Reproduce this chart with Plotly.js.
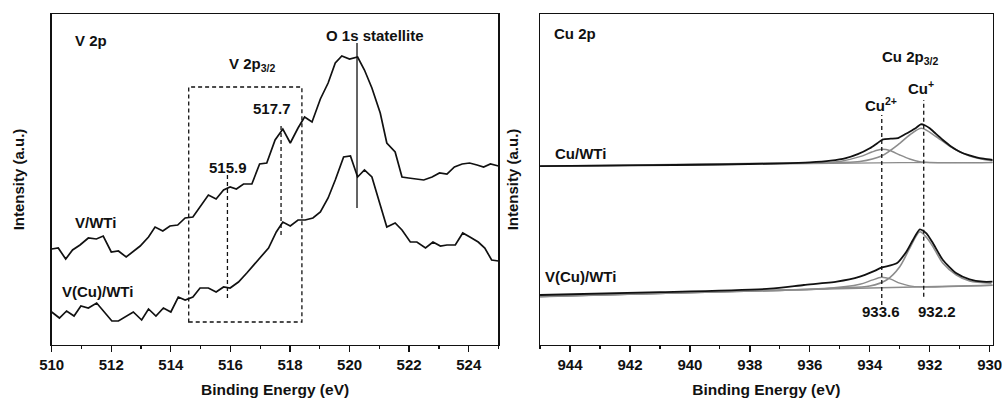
<!DOCTYPE html>
<html><head><meta charset="utf-8">
<script src="https://cdn.plot.ly/plotly-3.0.1.min.js"></script>
<style>html,body{margin:0;padding:0;background:#fff}#chart{width:1002px;height:399px}</style>
</head><body><div id="chart"></div>
<script>
// ---------- V 2p panel (left) ----------
const vwtiE = [510.0, 510.22, 510.47, 510.7, 510.95, 511.23, 511.5, 511.73, 512.0, 512.24, 512.5, 512.74, 512.97, 513.25, 513.47, 513.73, 513.97, 514.23, 514.48, 514.74, 514.98, 515.26, 515.52, 515.77, 515.99, 516.2, 516.44, 516.72, 516.98, 517.22, 517.5, 517.76, 518.01, 518.27, 518.49, 518.74, 519.02, 519.28, 519.52, 519.74, 520.0, 520.27, 520.5, 520.75, 521.03, 521.25, 521.53, 521.76, 521.98, 522.26, 522.49, 522.77, 523.02, 523.27, 523.52, 523.78, 524.03, 524.28, 524.5, 524.73, 525.0];
const vwtiI = [95, 96, 85, 94, 99, 106, 105, 108, 92, 93, 87, 93, 98, 107, 117, 113, 118, 119, 126, 127, 137, 149, 145, 154, 157, 155, 160, 160, 180, 181, 204, 215, 201, 216, 227, 222, 245, 261, 281, 288, 285, 287, 274, 256, 231, 201, 192, 167, 166, 165, 164, 167, 171, 170, 177, 180, 181, 179, 177, 180, 178];
const vcuE = [510.0, 510.26, 510.5, 510.75, 510.98, 511.23, 511.51, 511.73, 512.02, 512.24, 512.5, 512.74, 513.02, 513.25, 513.5, 513.75, 514.0, 514.25, 514.48, 514.74, 514.98, 515.26, 515.52, 515.77, 515.99, 516.27, 516.55, 516.83, 517.06, 517.28, 517.54, 517.76, 518.01, 518.27, 518.51, 518.77, 519.02, 519.28, 519.52, 519.8, 520.03, 520.27, 520.5, 520.75, 521.03, 521.25, 521.53, 521.76, 522.04, 522.26, 522.55, 522.8, 523.05, 523.27, 523.55, 523.8, 524.04, 524.32, 524.54, 524.77, 525.0];
const vcuI = [32, 26, 33, 28, 38, 36, 41, 33, 23, 23, 28, 32, 24, 35, 28, 36, 32, 47, 44, 47, 56, 56, 52, 57, 56, 62, 71, 81, 89, 96, 112, 122, 118, 124, 124, 126, 132, 146, 164, 187, 188, 167, 174, 167, 139, 117, 121, 114, 102, 102, 96, 102, 98, 99, 99, 111, 107, 102, 96, 84, 83];
const vPeaks = [515.9, 517.7];
const vPeakLabels = ['515.9', '517.7'];
const oSatellite = 520.25;
const vBoxRange = [514.6, 518.4];

// ---------- Cu 2p panel (right) ----------
const cuwtiE = [945, 942, 939, 937, 936, 935.3, 934.8, 934.4, 934.0, 933.75, 933.56, 933.3, 933.06, 932.85, 932.67, 932.45, 932.3, 932.15, 932.0, 931.8, 931.56, 931.3, 931.0, 930.7, 930.44, 930.2, 929.9];
const cuwtiI = [179.5, 180.3, 181.2, 182.3, 183.3, 185, 187.5, 191.5, 197.4, 202.5, 206.4, 207, 207.6, 211, 214, 218, 221.4, 220.2, 217.4, 212, 205.7, 199.5, 194, 190.5, 188.4, 187, 185.7];
const cuwtiBaseE = [945, 940, 936, 933, 929.9];
const cuwtiBaseI = [179.3, 180.8, 182.3, 183, 183.2];
const cuwtiCu2E = [945, 937, 935.67, 935.0, 934.33, 933.93, 933.61, 933.33, 933.0, 932.67, 932.33, 931.23, 929.9];
const cuwtiCu2I = [179.3, 182.2, 182.8, 184.2, 189, 193.7, 196.4, 195.2, 190.7, 186.7, 184, 182.9, 183.2];
const cuwtiCu1E = [945, 937, 935.0, 934.33, 933.61, 933.0, 932.67, 932.28, 931.78, 931.22, 930.67, 930.11, 929.9];
const cuwtiCu1I = [179.4, 182.5, 183.2, 184.2, 189.7, 202.4, 210.7, 217.4, 209, 197.4, 189.7, 185.7, 185];

const vcuCuE = [945, 941, 937.33, 936.2, 935.1, 934.33, 933.9, 933.61, 933.1, 932.78, 932.56, 932.33, 932.11, 931.89, 931.56, 931.11, 930.67, 930.22, 929.9];
const vcuCuI = [50.7, 53.5, 57, 60.7, 64, 69, 74, 78, 82.4, 94, 105.7, 116.4, 112.4, 102.4, 85.7, 72.4, 66.4, 64, 64];
const vcuBaseE = [945, 937.33, 929.9];
const vcuBaseI = [49, 55.5, 60.5];
const vcuCu2E = [945, 937, 935.5, 934.33, 933.93, 933.61, 933.3, 933.0, 932.67, 932.3, 929.9];
const vcuCu2I = [49.1, 55.2, 57, 61.4, 65.5, 68.4, 66.5, 62.5, 59.8, 58.8, 60.5];
const vcuCu1E = [945, 937, 935.0, 934.0, 933.44, 933.0, 932.67, 932.33, 932.1, 931.89, 931.56, 931.11, 930.67, 929.94];
const vcuCu1I = [49.2, 55.3, 57.8, 59.7, 65.7, 79, 97.4, 114, 108, 99, 82.4, 70.7, 64.7, 62.4];
const cuPeaks = [933.6, 932.2];
const cuPeakLabels = ['933.6', '932.2'];

// ---------- drawing ----------
const FONT = 'Liberation Sans, Arial, Helvetica, sans-serif';
const INK = '#111';
const GRAY = '#8c8c8c';
const bold = (s) => ({family: FONT, size: s, color: INK, weight: 700});

const blk = {color: INK, width: 1.7};
const traces = [
  {x: vwtiE, y: vwtiI, xaxis: 'x', yaxis: 'y', mode: 'lines', line: blk, name: 'V/WTi'},
  {x: vcuE, y: vcuI, xaxis: 'x', yaxis: 'y', mode: 'lines', line: blk, name: 'V(Cu)/WTi'},
  {x: cuwtiBaseE, y: cuwtiBaseI, xaxis: 'x2', yaxis: 'y2', mode: 'lines', line: {color: GRAY, width: 1.2}},
  {x: cuwtiCu2E, y: cuwtiCu2I, xaxis: 'x2', yaxis: 'y2', mode: 'lines', line: {color: GRAY, width: 1.4, shape: 'spline', smoothing: 0.8}},
  {x: cuwtiCu1E, y: cuwtiCu1I, xaxis: 'x2', yaxis: 'y2', mode: 'lines', line: {color: GRAY, width: 1.6, shape: 'spline', smoothing: 0.8}},
  {x: cuwtiE, y: cuwtiI, xaxis: 'x2', yaxis: 'y2', mode: 'lines', line: {color: INK, width: 1.8, shape: 'spline', smoothing: 0.6}, name: 'Cu/WTi'},
  {x: vcuBaseE, y: vcuBaseI, xaxis: 'x2', yaxis: 'y2', mode: 'lines', line: {color: GRAY, width: 1.6}},
  {x: vcuCu2E, y: vcuCu2I, xaxis: 'x2', yaxis: 'y2', mode: 'lines', line: {color: GRAY, width: 1.4, shape: 'spline', smoothing: 0.8}},
  {x: vcuCu1E, y: vcuCu1I, xaxis: 'x2', yaxis: 'y2', mode: 'lines', line: {color: GRAY, width: 1.6, shape: 'spline', smoothing: 0.8}},
  {x: vcuCuE, y: vcuCuI, xaxis: 'x2', yaxis: 'y2', mode: 'lines', line: {color: INK, width: 1.8, shape: 'spline', smoothing: 0.6}, name: 'V(Cu)/WTi'}
];

const xBase = {
  ticks: 'outside', ticklen: 6, tickwidth: 1.3, tickcolor: INK,
  minor: {dtick: 1, ticks: 'outside', ticklen: 3, tickwidth: 1.2, tickcolor: INK},
  showline: true, mirror: true, linecolor: INK, linewidth: 1.4,
  showgrid: false, zeroline: false, tickfont: bold(15), ticklabeloverflow: 'allow',
  title: {text: 'Binding Energy (eV)', font: bold(15.5), standoff: 11}
};
const yBase = {
  showticklabels: false, ticks: '', showline: true, mirror: true, linecolor: INK, linewidth: 1.4,
  showgrid: false, zeroline: false
};

const dash = {color: INK, width: 1.3, dash: '4px,3px'};
const shapes = [
  {type: 'line', xref: 'x', yref: 'y', x0: oSatellite, x1: oSatellite, y0: 136, y1: 301, line: {color: INK, width: 1.3}},
  {type: 'rect', xref: 'x', yref: 'y', x0: vBoxRange[0], x1: vBoxRange[1], y0: 22, y1: 257, line: dash},
  {type: 'line', xref: 'x', yref: 'y', x0: vPeaks[0], x1: vPeaks[0], y0: 46, y1: 171, line: dash},
  {type: 'line', xref: 'x', yref: 'y', x0: vPeaks[1], x1: vPeaks[1], y0: 109, y1: 221, line: dash},
  {type: 'line', xref: 'x2', yref: 'y2', x0: cuPeaks[0], x1: cuPeaks[0], y0: 40.7, y1: 230.7, line: dash},
  {type: 'line', xref: 'x2', yref: 'y2', x0: cuPeaks[1], x1: cuPeaks[1], y0: 49, y1: 245.7, line: dash}
];

const ann = (xr, yr, x, y, text, xanchor) => ({xref: xr, yref: yr, x, y, text, showarrow: false, font: bold(15), xanchor: xanchor || 'center', yanchor: 'middle'});
const annotations = [
  ann('x', 'y', 510.72, 304, 'V 2p', 'left'),
  ann('x', 'y', 520.86, 309, 'O 1s statellite'),
  ann('x', 'y', 516.73, 280, 'V 2p<sub>3/2</sub>'),
  ann('x', 'y', 517.4, 236, vPeakLabels[1]),
  ann('x', 'y', 515.92, 177, vPeakLabels[0]),
  ann('x', 'y', 510.72, 122, 'V/WTi', 'left'),
  ann('x', 'y', 510.28, 53, 'V(Cu)/WTi', 'left'),
  ann('x2', 'y2', 944.6, 312.7, 'Cu 2p', 'left'),
  ann('x2', 'y2', 932.67, 288, 'Cu 2p<sub>3/2</sub>'),
  ann('x2', 'y2', 932.28, 258, 'Cu<sup>+</sup>'),
  ann('x2', 'y2', 933.61, 241, 'Cu<sup>2+</sup>'),
  ann('x2', 'y2', 933.61, 34, cuPeakLabels[0]),
  ann('x2', 'y2', 931.76, 34, cuPeakLabels[1]),
  ann('x2', 'y2', 944.57, 192.7, 'Cu/WTi', 'left'),
  ann('x2', 'y2', 944.9, 69.7, 'V(Cu)/WTi', 'left')
];

const layout = {
  width: 1002, height: 399,
  margin: {l: 50, r: 8, t: 14, b: 54},
  paper_bgcolor: '#fff', plot_bgcolor: '#fff', showlegend: false,
  font: {family: FONT, color: INK},
  xaxis: Object.assign({}, xBase, {domain: [0.0018, 0.4751], range: [510, 525], tick0: 510, dtick: 2, anchor: 'y'}),
  yaxis: Object.assign({}, yBase, {domain: [0, 1], range: [-1, 330], anchor: 'x',
    title: {text: 'Intensity (a.u.)', font: bold(15), standoff: 22}}),
  xaxis2: Object.assign({}, xBase, {domain: [0.5191, 0.9986], range: [945, 929.9], tick0: 930, dtick: 2, anchor: 'y2'}),
  yaxis2: Object.assign({}, yBase, {domain: [0, 1], range: [0.7, 331.7], anchor: 'x2',
    title: {text: 'Intensity (a.u.)', font: bold(15), standoff: 16}}),
  shapes, annotations
};

Plotly.newPlot('chart', traces, layout, {staticPlot: true, displayModeBar: false});
</script></body></html>
